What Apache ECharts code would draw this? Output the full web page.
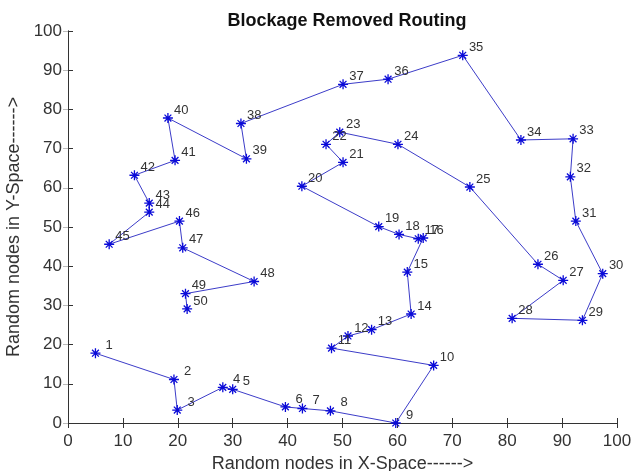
<!DOCTYPE html>
<html>
<head>
<meta charset="utf-8">
<script src="https://cdn.jsdelivr.net/npm/echarts@6/dist/echarts.min.js"></script>
<style>
html,body{margin:0;padding:0;background:#fff;}
#c{width:633px;height:471px;}
</style>
</head>
<body>
<div id="c"></div>
<script>
// Node ids (route order)
const nodeIds = [1,2,3,4,5,6,7,8,9,10,11,12,13,14,15,16,17,18,19,20,21,22,23,24,25,26,27,28,29,30,31,32,33,34,35,36,37,38,39,40,41,42,43,44,45,46,47,48,49,50];
// X coordinates
const xs = [5.0,19.3,19.9,28.2,30.0,39.6,42.7,47.8,59.7,66.6,48.0,51.0,55.3,62.5,61.8,64.7,63.8,60.3,56.6,42.6,50.1,47.0,49.5,60.1,73.2,85.6,90.2,80.9,93.7,97.4,92.5,91.5,92.0,82.5,71.9,58.3,50.1,31.5,32.5,18.2,19.5,12.1,14.8,14.8,7.5,20.3,20.9,33.9,21.4,21.7];
// Y coordinates
const ys = [17.8,11.1,3.3,9.1,8.6,4.1,3.7,3.1,0.0,14.7,19.1,22.2,23.8,27.8,38.5,47.2,47.0,48.1,50.1,60.4,66.5,71.1,74.2,71.1,60.2,40.5,36.4,26.7,26.2,38.1,51.5,62.8,72.5,72.2,93.8,87.7,86.4,76.4,67.4,77.8,67.0,63.2,56.1,53.8,45.6,51.5,44.7,36.1,33.0,29.1];
const ticks = [0,10,20,30,40,50,60,70,80,90,100];

const seriesData = nodeIds.map((id, i) => ({
  value: [xs[i], ys[i]],
  name: String(id),
  label: { offset: [String(id).length === 1 ? 4.5 : 0.5, -8] }
}));

const axisColor = '#333';
const chart = echarts.init(document.getElementById('c'), null, {renderer: 'canvas'});
const fontFam = '"Liberation Sans", Arial, sans-serif';
chart.setOption({
  animation: false,
  backgroundColor: '#fff',
  title: {
    text: 'Blockage Removed Routing',
    left: 342, top: 7, textAlign: 'center',
    textStyle: {fontFamily: fontFam, fontSize: 18, fontWeight: 'bold', color: '#111'}
  },
  grid: {left: 68, right: 16, top: 31, bottom: 48, show: false, containLabel: false, outerBoundsMode: 'none'},
  xAxis: [{
    type: 'value', min: ticks[0], max: ticks[ticks.length-1], interval: 10,
    position: 'bottom',
    name: 'Random nodes in X-Space------>', nameLocation: 'middle', nameGap: 22,
    nameTextStyle: {fontFamily: fontFam, fontSize: 18, color: '#333'},
    axisLine: {show: true, lineStyle: {color: axisColor, width: 1}},
    axisTick: {show: true, inside: true, length: 5, lineStyle: {color: axisColor}},
    axisLabel: {fontFamily: fontFam, fontSize: 17, color: '#333', margin: 10},
    splitLine: {show: false}
  }, {
    type: 'value', min: 0, max: 100, interval: 10, position: 'top',
    axisLine: {show: true, lineStyle: {color: axisColor, width: 1}},
    axisTick: {show: true, inside: true, length: 5, lineStyle: {color: axisColor}},
    axisLabel: {show: false}, splitLine: {show: false}
  }],
  yAxis: [{
    type: 'value', min: ticks[0], max: ticks[ticks.length-1], interval: 10,
    position: 'left',
    name: 'Random nodes in Y-Space------>', nameLocation: 'middle', nameGap: 40,
    nameTextStyle: {fontFamily: fontFam, fontSize: 18, color: '#333'},
    axisLine: {show: true, lineStyle: {color: axisColor, width: 1}},
    axisTick: {show: true, inside: true, length: 5, lineStyle: {color: axisColor}},
    axisLabel: {fontFamily: fontFam, fontSize: 17, color: '#333', margin: 6},
    splitLine: {show: false}
  }, {
    type: 'value', min: 0, max: 100, interval: 10, position: 'right',
    axisLine: {show: true, lineStyle: {color: axisColor, width: 1}},
    axisTick: {show: true, inside: true, length: 5, lineStyle: {color: '#bbb'}},
    axisLabel: {show: false}, splitLine: {show: false}
  }],
  series: [{
    type: 'line',
    data: seriesData,
    xAxisIndex: 0, yAxisIndex: 0,
    symbol: 'path://M5 0 L5 10 M0 5 L10 5 M1.6 1.6 L8.4 8.4 M1.6 8.4 L8.4 1.6',
    symbolSize: 10,
    showAllSymbol: true,
    lineStyle: {color: '#3c3cc8', width: 1},
    itemStyle: {color: 'rgba(0,0,0,0)', borderColor: '#0a0ad8', borderWidth: 1.3},
    label: {
      show: true, position: 'right', distance: 0,
      formatter: p => p.name,
      fontFamily: fontFam, fontSize: 13, color: '#333'
    },
    emphasis: {disabled: true}
  }]
});
</script>
</body>
</html>
